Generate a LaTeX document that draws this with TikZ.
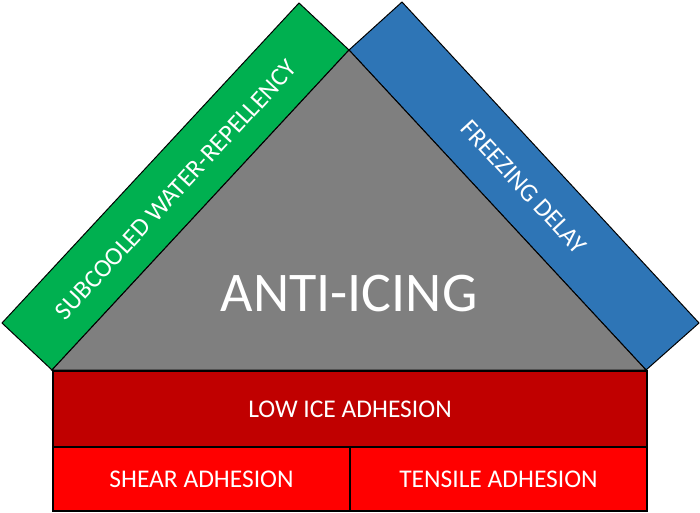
\documentclass[tikz,border=0pt]{standalone}
\usepackage{fontspec}
\setmainfont{Carlito}
\definecolor{bandgreen}{HTML}{00B050}
\definecolor{bandblue}{HTML}{2E75B6}
\definecolor{trigrey}{HTML}{7F7F7F}
\definecolor{darkred}{HTML}{C00000}
\definecolor{brightred}{HTML}{FF0000}
\begin{document}
\begin{tikzpicture}[x=1pt,y=-1pt,
  shapeline/.style={draw=black,line width=1pt,line join=miter},
  boxline/.style={draw=black,line width=2pt},
  lbl/.style={text=white,inner sep=0pt,anchor=center},
  small/.style={font=\fontsize{25.5}{25.5}\selectfont},
]
\useasboundingbox (0,0) rectangle (700,512);
% corner coordinates
\coordinate (apex) at (349,50);
\coordinate (gtop) at (299,3);
\coordinate (gleft) at (2,323);
\coordinate (bl) at (52,370);
\coordinate (btop) at (402,2);
\coordinate (bright) at (699,323);
\coordinate (br) at (646,370);
% bands
\fill[bandgreen] (apex) -- (gtop) -- (gleft) -- (bl) -- cycle;
\draw[shapeline] (apex) -- (gtop) -- (gleft) -- (bl) -- cycle;
\fill[bandblue] (apex) -- (btop) -- (bright) -- (br) -- cycle;
\draw[shapeline] (apex) -- (btop) -- (bright) -- (br) -- cycle;
% triangle
\fill[trigrey] (apex) -- (bl) -- (br) -- cycle;
\draw[shapeline] (apex) -- (bl) -- (br) -- cycle;
% boxes
\node[boxline,fill=darkred,minimum width=594pt,minimum height=76pt,inner sep=0pt,anchor=north west] (low) at (52,370) {};
\node[boxline,fill=brightred,minimum width=297pt,minimum height=64pt,inner sep=0pt,anchor=north west] (shear) at (52,446) {};
\node[boxline,fill=brightred,minimum width=297pt,minimum height=64pt,inner sep=0pt,anchor=north west] (tensile) at (349,446) {};
% labels
\node[lbl,font=\fontsize{56}{56}\selectfont] (anti) at (349,294) {ANTI-ICING};
\node[lbl,small] (lowt) at (low.center) {LOW ICE ADHESION};
\node[lbl,small] (sheart) at (shear.center) {SHEAR ADHESION};
\node[lbl,small] (tensilet) at (tensile.center) {TENSILE ADHESION};
\node[lbl,small,rotate=47.2] (subt) at (176,190) {SUBCOOLED WATER-REPELLENCY};
\node[lbl,small,rotate=-47.2] (freezet) at (524,187) {FREEZING DELAY};
\end{tikzpicture}
\end{document}
